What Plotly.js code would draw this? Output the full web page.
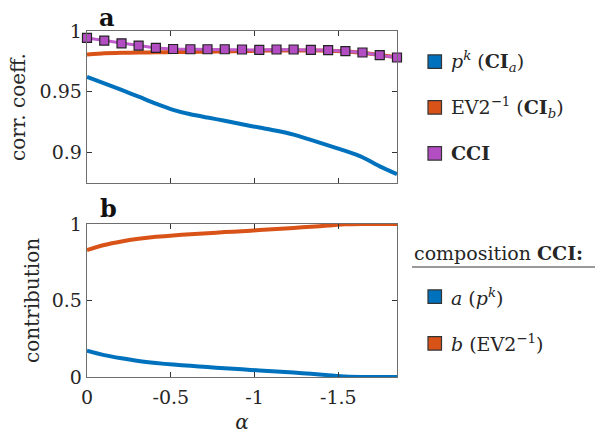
<!DOCTYPE html>
<html><head><meta charset="utf-8">
<script src="https://cdn.plot.ly/plotly-3.0.1.min.js"></script>
<style>html,body{margin:0;padding:0;background:#fff}#chart{width:595px;height:434px}</style>
</head><body><div id="chart"></div>
<script>
// ---- data ----
const alpha = [0, -0.103, -0.206, -0.308, -0.411, -0.514, -0.617, -0.719, -0.822, -0.925,
               -1.028, -1.131, -1.233, -1.336, -1.439, -1.542, -1.644, -1.747, -1.85];
const corrPk  = [0.9622, 0.9570, 0.9515, 0.9460, 0.9403, 0.9352, 0.9315, 0.9288, 0.9262, 0.9233,
                 0.9206, 0.9180, 0.9148, 0.9104, 0.9060, 0.9014, 0.8962, 0.8887, 0.8823];
const corrEV2 = [0.9807, 0.9817, 0.9821, 0.9823, 0.9825, 0.9827, 0.9828, 0.9830, 0.9832, 0.9835,
                 0.9838, 0.9840, 0.9840, 0.9840, 0.9838, 0.9832, 0.9822, 0.9802, 0.9783];
const corrCCI = [0.9943, 0.9921, 0.9899, 0.9880, 0.9861, 0.9852, 0.9850, 0.9850, 0.9850, 0.9848,
                 0.9844, 0.9848, 0.9848, 0.9844, 0.9842, 0.9834, 0.9823, 0.9801, 0.9782];
const contribA = [0.172, 0.143, 0.122, 0.104, 0.091, 0.081, 0.073, 0.065, 0.057, 0.050,
                  0.043, 0.036, 0.029, 0.021, 0.012, 0.003, 0, 0, 0];
const contribB = [0.830, 0.863, 0.886, 0.903, 0.916, 0.925, 0.933, 0.940, 0.947, 0.953,
                  0.960, 0.967, 0.974, 0.982, 0.990, 0.998, 1, 1, 1];
const xTickVals = [0, -0.5, -1, -1.5];
const xTickText = ['0', '-0.5', '-1', '-1.5'];
const yTopTickVals = [0.9, 0.95, 1];
const yTopTickText = ['0.9', '0.95', '1'];
const yBotTickVals = [0, 0.5, 1];
const yBotTickText = ['0', '0.5', '1'];
const topLegend = ['<i>p</i><sup><i>k</i></sup> (<b>CI</b><sub><i>a</i></sub>)',
                   'EV2<sup>−1</sup> (<b>CI</b><sub><i>b</i></sub>)',
                   '<b>CCI</b>'];
const botLegendTitle = 'composition <b>CCI:</b>';
const botLegend = ['<i>a</i> (<i>p</i><sup><i>k</i></sup>)',
                   '<i>b</i> (EV2<sup>−1</sup>)'];

// ---- styling ----
const BLUE = '#0072BD', ORANGE = '#D95319', PURPLE = '#B34EC2', PURPLE_LINE = '#C05CCC';
const FONT = 'DejaVu Serif', TXT = '#262626';
const W = 595, H = 434, ML = 87, MR = 198, MT = 31, MB = 57;
const PW = W - ML - MR, PH = H - MT - MB;
const PX = px => (px - ML) / PW;
const PY = py => (H - MB - py) / PH;

const traces = [
  {x: alpha, y: corrPk, xaxis: 'x', yaxis: 'y', mode: 'lines', line: {color: BLUE, width: 4, shape: 'spline', smoothing: 0.6}, name: 'p^k (CI_a)'},
  {x: alpha, y: corrEV2, xaxis: 'x', yaxis: 'y', mode: 'lines', line: {color: ORANGE, width: 4, shape: 'spline', smoothing: 0.6}, name: 'EV2^-1 (CI_b)'},
  {x: alpha, y: corrCCI, xaxis: 'x', yaxis: 'y', mode: 'lines+markers', cliponaxis: false,
   line: {color: PURPLE_LINE, width: 3},
   marker: {symbol: 'square', size: 9, color: PURPLE, line: {color: '#222', width: 1.2}}, name: 'CCI'},
  {x: alpha, y: contribA, xaxis: 'x2', yaxis: 'y2', mode: 'lines', line: {color: BLUE, width: 4, shape: 'spline', smoothing: 0.5}, name: 'a (p^k)'},
  {x: alpha, y: contribB, xaxis: 'x2', yaxis: 'y2', mode: 'lines', line: {color: ORANGE, width: 4, shape: 'spline', smoothing: 0.5}, name: 'b (EV2^-1)'}
];

const axCommon = {
  showgrid: false, zeroline: false, showline: true, linecolor: '#6e6e6e', linewidth: 1.3,
  mirror: 'allticks', ticks: 'inside', ticklen: 5, tickwidth: 1, tickcolor: '#333',
  tickfont: {family: FONT, size: 19, color: TXT}
};
const topDom = [PY(183), 1];
const botDom = [0, PY(224)];

const shapes = [];
const annotations = [];
function legendItem(cy, color, text) {
  shapes.push({type: 'rect', xref: 'paper', yref: 'paper', x0: PX(428), x1: PX(441.5),
               y0: PY(cy + 6.75), y1: PY(cy - 6.75), fillcolor: color, line: {color: '#333', width: 1.2}});
  annotations.push({xref: 'paper', yref: 'paper', x: PX(449), y: PY(cy), xanchor: 'left', yanchor: 'middle',
                    showarrow: false, text: text, font: {family: FONT, size: 19, color: TXT}});
}
legendItem(61.7, BLUE, topLegend[0]);
legendItem(107.3, ORANGE, topLegend[1]);
legendItem(153.3, PURPLE, topLegend[2]);
annotations.push({xref: 'paper', yref: 'paper', x: PX(412), y: PY(253), xanchor: 'left', yanchor: 'middle',
                  showarrow: false, text: botLegendTitle, font: {family: FONT, size: 19, color: TXT}});
shapes.push({type: 'line', xref: 'paper', yref: 'paper', x0: PX(412), x1: PX(595), y0: PY(267), y1: PY(267),
             line: {color: '#777', width: 1.5}});
legendItem(296.7, BLUE, botLegend[0]);
legendItem(343.3, ORANGE, botLegend[1]);
annotations.push({xref: 'paper', yref: 'paper', x: PX(97), y: PY(17), xanchor: 'left', yanchor: 'middle',
                  showarrow: false, text: '<b>a</b>', font: {family: FONT, size: 24, color: '#111'}});
annotations.push({xref: 'paper', yref: 'paper', x: PX(98), y: PY(208), xanchor: 'left', yanchor: 'middle',
                  showarrow: false, text: '<b>b</b>', font: {family: FONT, size: 24, color: '#111'}});

const layout = {
  width: W, height: H, margin: {l: ML, r: MR, t: MT, b: MB},
  paper_bgcolor: '#fff', plot_bgcolor: '#fff', showlegend: false,
  font: {family: FONT, size: 19, color: TXT},
  xaxis: Object.assign({}, axCommon, {domain: [0, 1], anchor: 'y', range: [0, -1.85],
    tickvals: xTickVals, ticktext: xTickText, showticklabels: false}),
  yaxis: Object.assign({}, axCommon, {domain: topDom, anchor: 'x', range: [0.875, 1],
    tickvals: yTopTickVals, ticktext: yTopTickText,
    title: {text: 'corr. coeff.', font: {family: FONT, size: 20, color: TXT}, standoff: 8}}),
  xaxis2: Object.assign({}, axCommon, {domain: [0, 1], anchor: 'y2', range: [0, -1.85],
    tickvals: xTickVals, ticktext: xTickText, ticklabelstandoff: 3,
    title: {text: '<i>α</i>', font: {family: FONT, size: 20, color: TXT}, standoff: 12}}),
  yaxis2: Object.assign({}, axCommon, {domain: botDom, anchor: 'x2', range: [0, 1],
    tickvals: yBotTickVals, ticktext: yBotTickText,
    title: {text: 'contribution', font: {family: FONT, size: 20, color: TXT}, standoff: 6}}),
  shapes: shapes, annotations: annotations
};
Plotly.newPlot('chart', traces, layout, {displayModeBar: false, staticPlot: true});
</script></body></html>
